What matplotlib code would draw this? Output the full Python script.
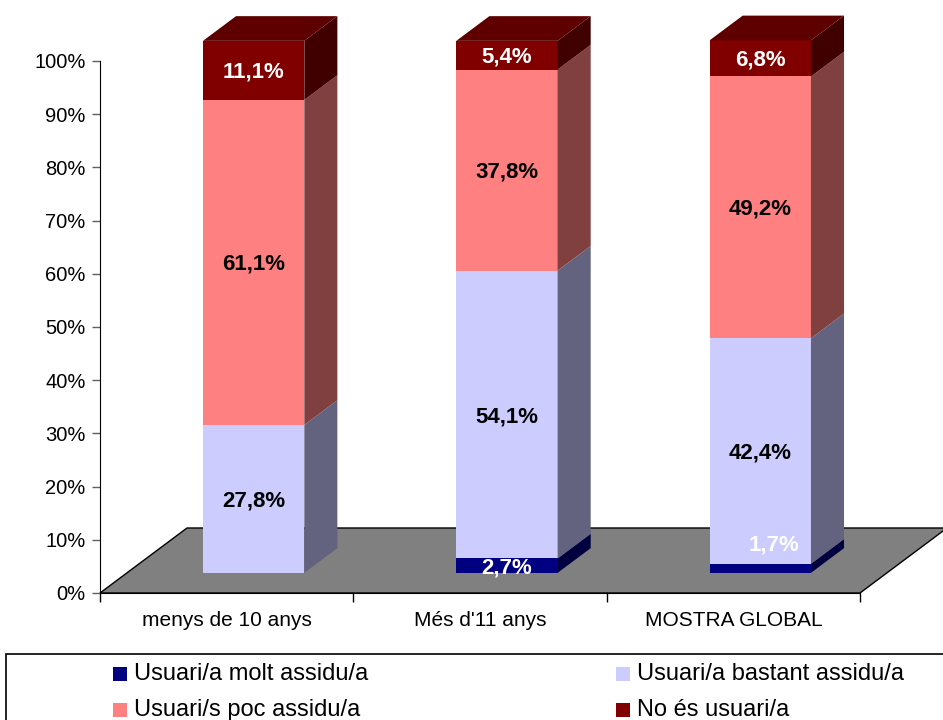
import matplotlib
matplotlib.use('Agg')
import matplotlib.pyplot as plt
from matplotlib.patches import Polygon, Rectangle

plt.rcParams['font.family'] = ['Liberation Sans', 'DejaVu Sans']

# ---------------- data ----------------
categories = ['menys de 10 anys', "Més d'11 anys", 'MOSTRA GLOBAL']
series_names = ['Usuari/a molt assidu/a', 'Usuari/a bastant assidu/a',
                'Usuari/s poc assidu/a', 'No és usuari/a']
molt_assidu = [0.0, 2.7, 1.7]
bastant_assidu = [27.8, 54.1, 42.4]
poc_assidu = [61.1, 37.8, 49.2]
no_usuari = [11.1, 5.4, 6.8]
ytick_values = [0, 10, 20, 30, 40, 50, 60, 70, 80, 90, 100]
ytick_labels = ['0%', '10%', '20%', '30%', '40%', '50%', '60%', '70%', '80%', '90%', '100%']

# ---------------- style ----------------
front_colors = ['#000080', '#CCCCFF', '#FF8080', '#800000']
side_colors = ['#000040', '#636380', '#804040', '#400000']
top_colors = ['#000060', '#9999C0', '#C06060', '#5E0000']
label_colors = ['white', 'black', 'black', 'white']

W, H = 943, 720
fig = plt.figure(figsize=(W / 100, H / 100), dpi=100)
ax_left, ax_right, ax_top, ax_bottom = 100, 860, 61, 593
ax = fig.add_axes([ax_left / W, 1 - ax_bottom / H,
                   (ax_right - ax_left) / W, (ax_bottom - ax_top) / H])
n = len(categories)
ax.set_xlim(0, n)
ax.set_ylim(0, 100)

# pixel -> data conversions
px_x = (ax_right - ax_left) / n      # px per category
px_y = (ax_bottom - ax_top) / 100.0  # px per percent

floor_dx, floor_dy = 87 / px_x, 65 / px_y
front_frac, back_frac = 0.31, 0.69
fx, fy = floor_dx * front_frac, floor_dy * front_frac
bdx, bdy = floor_dx * (back_frac - front_frac), floor_dy * (back_frac - front_frac)
half_w = 0.2

# floor
ax.add_patch(Polygon([(0, 0), (n, 0), (n + floor_dx, floor_dy), (floor_dx, floor_dy)],
                     closed=True, facecolor='#808080', edgecolor='black',
                     linewidth=1.0, clip_on=False, zorder=1))

series = [molt_assidu, bastant_assidu, poc_assidu, no_usuari]
for i in range(n):
    xc = i + 0.5 + fx
    xl, xr = xc - half_w, xc + half_w
    base = 0.0
    vals = [s[i] for s in series]
    top_k = max(k for k, v in enumerate(vals) if v > 0)
    for k, v in enumerate(vals):
        if v <= 0:
            continue
        y0, y1 = base + fy, base + v + fy
        ax.add_patch(Polygon([(xl, y0), (xr, y0), (xr, y1), (xl, y1)], closed=True,
                             facecolor=front_colors[k], edgecolor='none',
                             clip_on=False, zorder=3))
        ax.add_patch(Polygon([(xr, y0), (xr + bdx, y0 + bdy), (xr + bdx, y1 + bdy), (xr, y1)],
                             closed=True, facecolor=side_colors[k], edgecolor='none',
                             clip_on=False, zorder=3))
        if k == top_k:
            ax.add_patch(Polygon([(xl, y1), (xr, y1), (xr + bdx, y1 + bdy), (xl + bdx, y1 + bdy)],
                                 closed=True, facecolor=top_colors[k], edgecolor='none',
                                 clip_on=False, zorder=3))
        txt = f"{v:.1f}%".replace('.', ',')
        if v < 2.0 and k == 0 and i == 2:
            offset = (14, 23)
        else:
            offset = (0, -2)
        ax.annotate(txt, (xc, (y0 + y1) / 2), xytext=offset, textcoords='offset pixels',
                    ha='center', va='center', fontsize=16, fontweight='bold',
                    color=label_colors[k], zorder=5, annotation_clip=False)
        base += v

# axes styling
for s in ['top', 'right']:
    ax.spines[s].set_visible(False)
ax.spines['left'].set_color('black')
ax.spines['bottom'].set_color('black')
ax.spines['left'].set_zorder(2)
ax.spines['bottom'].set_zorder(2)
ax.set_yticks(ytick_values)
ax.set_yticklabels(ytick_labels, fontsize=14.5)
ax.tick_params(axis='y', length=6, width=1, color='#606060', pad=4.5)
ax.set_xticks(range(n + 1))
ax.set_xticklabels([''] * (n + 1))
ax.tick_params(axis='x', which='major', length=6.5, width=1, color='black', direction='out')
ax.set_xticks([i + 0.5 for i in range(n)], minor=True)
ax.set_xticklabels(categories, minor=True, fontsize=15)
ax.tick_params(axis='x', which='minor', length=0, pad=13)
ax.patch.set_visible(False)

# legend box
fig.add_artist(Rectangle((6 / W, -0.05), 1.1, (720 - 654) / H + 0.05,
                         transform=fig.transFigure, facecolor='none',
                         edgecolor='black', linewidth=1.2))
marker_x = [113, 616]
row_y = [674, 710]
for k, name in enumerate(series_names):
    col, row = k % 2, k // 2
    mx, my = marker_x[col], row_y[row]
    fig.add_artist(Rectangle((mx / W, 1 - (my + 7) / H), 14 / W, 14 / H,
                             transform=fig.transFigure, facecolor=front_colors[k],
                             edgecolor='none'))
    fig.text((mx + 21) / W, 1 - my / H, name, ha='left', va='center', fontsize=17)

fig.savefig('out.png', dpi=100)
